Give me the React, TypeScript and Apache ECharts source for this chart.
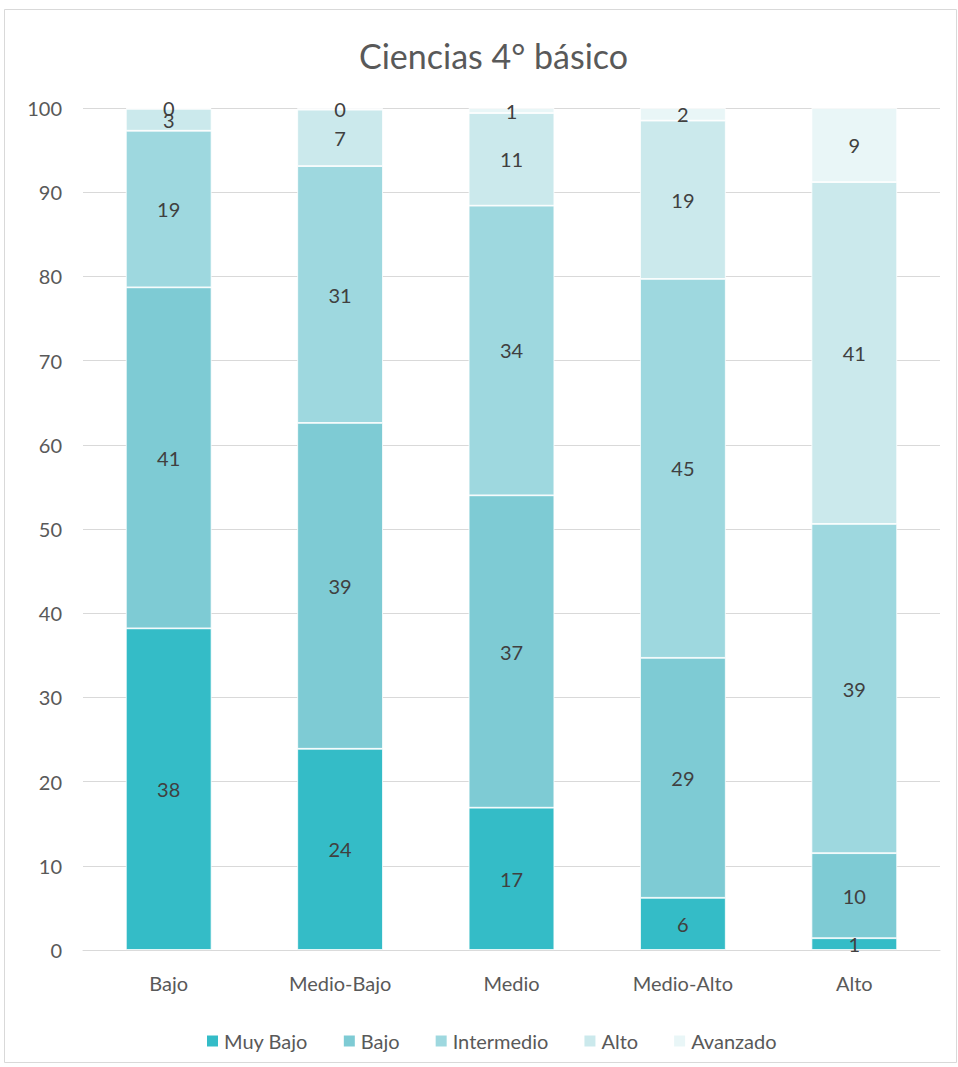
import React, { useEffect, useRef } from "react";
import * as echarts from "echarts";

const categories = ["Bajo", "Medio-Bajo", "Medio", "Medio-Alto", "Alto"];
const seriesNames = ["Muy Bajo", "Bajo", "Intermedio", "Alto", "Avanzado"];
const muyBajo = [38.2, 23.9, 16.9, 6.2, 1.4];
const bajo = [40.5, 38.7, 37.1, 28.5, 10.1];
const intermedio = [18.6, 30.5, 34.4, 45.0, 39.1];
const alto = [2.6, 6.7, 11.0, 18.8, 40.6];
const avanzado = [0.1, 0.2, 0.6, 1.5, 8.8];
const colors = ["#34BCC7", "#7ECBD4", "#9ED8DF", "#CBE9EC", "#E9F6F7"];
const yTicks = { min: 0, max: 100, interval: 10 };

const FONT = "Lato, 'Open Sans', sans-serif";

export default function App() {
  const ref = useRef<HTMLDivElement>(null);
  useEffect(() => {
    if (!ref.current) return;
    const chart = echarts.init(ref.current, null, { renderer: "svg" });
    const values = [muyBajo, bajo, intermedio, alto, avanzado];
    chart.setOption({
      animation: false,
      textStyle: { fontFamily: FONT },
      title: {
        text: "Ciencias 4° básico",
        left: 354,
        top: 33,
        textStyle: { fontFamily: FONT, fontSize: 34, fontWeight: "normal", color: "#595959" },
      },
      graphic: [
        {
          type: "rect",
          shape: { x: 4.5, y: 9.5, width: 952, height: 1053 },
          style: { fill: "none", stroke: "#d9d9d9", lineWidth: 1 },
          silent: true,
        },
      ],
      legend: {
        data: seriesNames,
        top: 1026,
        left: 200,
        itemWidth: 13,
        itemHeight: 13,
        itemGap: 34,
        icon: "rect",
        textStyle: { fontFamily: FONT, fontSize: 20, color: "#595959" },
      },
      grid: { left: 83, right: 18, top: 108, bottom: 117, containLabel: false },
      xAxis: {
        type: "category",
        data: categories,
        axisLine: { lineStyle: { color: "#d9d9d9" } },
        axisTick: { show: false },
        axisLabel: { fontFamily: FONT, fontSize: 20, color: "#595959", margin: 23 },
      },
      yAxis: {
        type: "value",
        min: yTicks.min,
        max: yTicks.max,
        interval: yTicks.interval,
        axisLine: { show: false },
        axisTick: { show: false },
        splitLine: { lineStyle: { color: "#d9d9d9", width: 1 } },
        axisLabel: { fontFamily: FONT, fontSize: 20, color: "#595959", margin: 21 },
      },
      series: seriesNames.map((name, i) => ({
        name,
        type: "bar",
        stack: "total",
        barWidth: "50%",
        data: values[i],
        itemStyle: { color: colors[i], borderColor: "#ffffff", borderWidth: 0.8 },
        label: {
          show: true,
          position: "inside",
          formatter: (p: any) => String(Math.round(p.value)),
          fontFamily: FONT,
          fontSize: 20,
          color: "#404040",
        },
      })),
    });
    return () => chart.dispose();
  }, []);
  return (
    <div
      ref={ref}
      style={{ position: "fixed", left: 0, top: 0, width: 958, height: 1067, background: "#fff" }}
    />
  );
}
